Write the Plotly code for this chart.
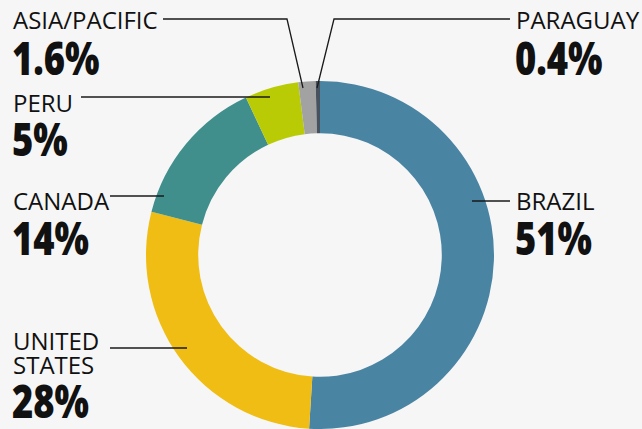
import plotly.graph_objects as go

W, H = 642, 429

regions = ["BRAZIL", "UNITED STATES", "CANADA", "PERU", "ASIA/PACIFIC", "PARAGUAY"]
shares = [51, 28, 14, 5, 1.6, 0.4]
share_labels = ["51%", "28%", "14%", "5%", "1.6%", "0.4%"]
label_lines = [["BRAZIL"], ["UNITED", "STATES"], ["CANADA"], ["PERU"], ["ASIA/PACIFIC"], ["PARAGUAY"]]
colors = ["#4a84a3", "#efbd14", "#418f8c", "#b9cb05", "#a2a2a2", "#48525e"]

BG = "#f6f6f6"


def px(x):
    return x / W


def py(y):
    return 1 - y / H


fig = go.Figure(
    go.Pie(
        labels=regions,
        values=shares,
        hole=0.70,
        sort=False,
        direction="clockwise",
        rotation=0,
        marker=dict(colors=colors, line=dict(width=0)),
        textinfo="none",
        hoverinfo="label+percent",
        showlegend=False,
        domain=dict(x=[px(146), px(494)], y=[py(429), py(81)]),
    )
)

# label layout: x, first name-line center y, pct center y
layout_pos = {
    "BRAZIL": (516, 200.5, 237.5),
    "UNITED STATES": (13, 340, 399.5),
    "CANADA": (13, 200.5, 237.5),
    "PERU": (13, 102.5, 138),
    "ASIA/PACIFIC": (13, 20, 56.5),
    "PARAGUAY": (516, 20, 56.5),
}
LINE_STEP = 24.5

annotations = []
for reg, lines, pt in zip(regions, label_lines, share_labels):
    x, yn, yp = layout_pos[reg]
    for i, ln in enumerate(lines):
        annotations.append(dict(
            x=px(x - 1), y=py(yn + i * LINE_STEP), xref="paper", yref="paper",
            xanchor="left", yanchor="middle",
            text=ln, showarrow=False, align="left", borderpad=0,
            font=dict(family="Open Sans", size=24, weight=400, color="#111111"),
        ))
    annotations.append(dict(
        x=px(x - 2), y=py(yp), xref="paper", yref="paper", xanchor="left", yanchor="middle",
        text=pt, showarrow=False, align="left", borderpad=0,
        font=dict(family="Open Sans", size=46, weight=800, color="#111111"),
    ))

# leader lines (pixel paths)
leaders = [
    [(163, 19), (287, 19), (303, 88)],   # Asia/Pacific
    [(510, 19), (334, 19), (317, 88)],   # Paraguay
    [(81, 97), (270, 97)],               # Peru
    [(110, 196), (164, 196)],            # Canada
    [(110, 348), (187, 348)],            # United States
    [(472, 201), (510, 201)],            # Brazil
]
shapes = []
for pts in leaders:
    path = "M " + " L ".join(f"{px(a):.5f},{py(b):.5f}" for a, b in pts)
    shapes.append(dict(type="path", path=path, xref="paper", yref="paper",
                       line=dict(color="#1a1a1a", width=1.3), layer="above"))

fig.update_layout(
    width=W, height=H,
    margin=dict(l=0, r=0, t=0, b=0),
    paper_bgcolor=BG, plot_bgcolor=BG,
    annotations=annotations,
    shapes=shapes,
)

# remove default page margin and condense the bold percentage figures
post = """
document.body.style.margin = '0';
document.querySelectorAll('text.annotation-text').forEach(function (t) {
  if (t.textContent.trim().slice(-1) === '%') {
    var w = t.getComputedTextLength();
    t.setAttribute('textLength', (w * 0.79).toFixed(1));
    t.setAttribute('lengthAdjust', 'spacingAndGlyphs');
  }
});
"""

fig.write_html("out.html", post_script=post, config={"displayModeBar": False})
